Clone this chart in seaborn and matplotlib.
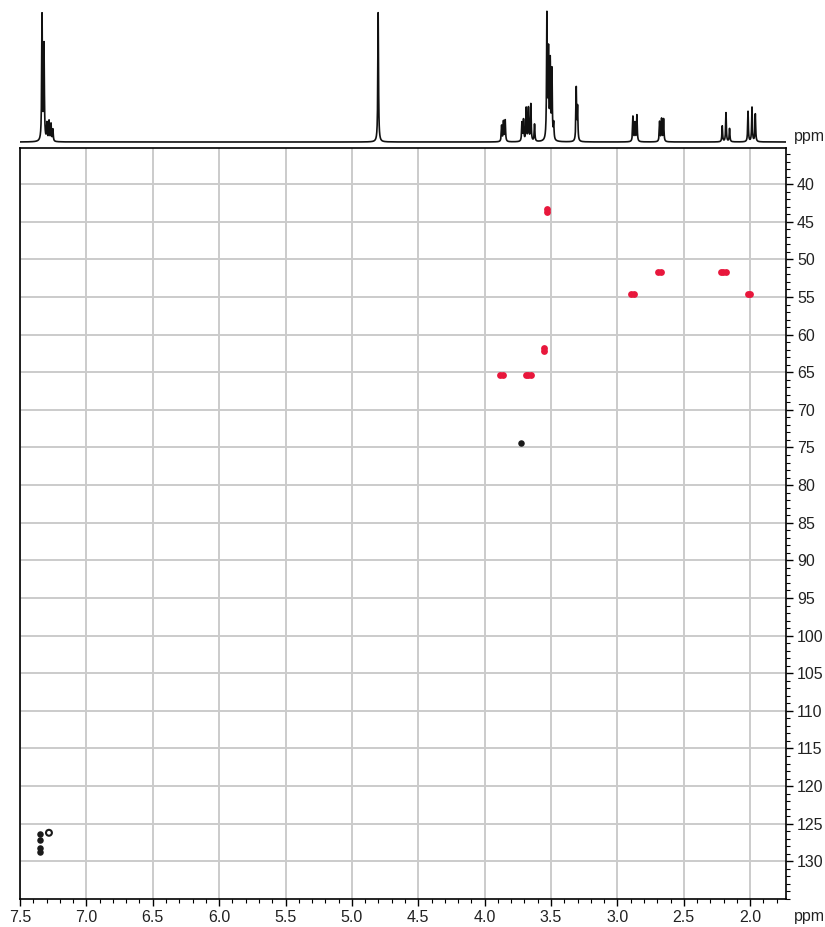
import numpy as np
import pandas as pd
import seaborn as sns
import matplotlib.pyplot as plt
from matplotlib.ticker import MultipleLocator

# 1H 스펙트럼 피크 (ppm, 상대 높이)
h_shift = [7.334, 7.319, 7.297, 7.281, 7.266, 7.252,
           4.802,
           3.872, 3.858, 3.845,
           3.719, 3.707, 3.687, 3.670, 3.652, 3.624,
           3.531, 3.519, 3.506, 3.493, 3.480,
           3.310, 3.300,
           2.883, 2.868, 2.853,
           2.682, 2.667, 2.652,
           2.210, 2.182, 2.155,
           2.016, 1.986, 1.961]
h_height = [0.95, 0.72, 0.13, 0.15, 0.13, 0.09,
            0.98,
            0.12, 0.15, 0.16,
            0.14, 0.16, 0.25, 0.25, 0.28, 0.13,
            0.94, 0.65, 0.58, 0.52, 0.12,
            0.40, 0.25,
            0.19, 0.14, 0.20,
            0.15, 0.17, 0.17,
            0.12, 0.22, 0.10,
            0.23, 0.26, 0.21]

# HSQC 교차 피크 (양의 위상 = 빨강)
pos_h = [3.530, 3.530, 2.696, 2.674, 2.220, 2.202, 2.184,
         2.898, 2.878, 2.018, 1.998, 3.551, 3.551,
         3.886, 3.864, 3.690, 3.670, 3.650]
pos_c = [43.3, 43.7, 51.7, 51.7, 51.7, 51.7, 51.7,
         54.6, 54.6, 54.6, 54.6, 61.8, 62.2,
         65.4, 65.4, 65.4, 65.4, 65.4]
# 음의 위상 = 검정
neg_h = [3.725, 7.350, 7.350, 7.350, 7.350]
neg_c = [74.4, 126.4, 127.1, 128.2, 128.7]
ring_h = [7.282]
ring_c = [126.2]

red = '#e8173c'

sns.set_style('white')
plt.rcParams['font.family'] = ['Liberation Sans', 'DejaVu Sans']

fig = plt.figure(figsize=(8.25, 9.27), dpi=100)
ax = fig.add_axes([20/825, 1-899/927, 766/825, 751/927])
ax1d = fig.add_axes([20/825, 1-145/927, 766/825, 140/927])

# 1D 스펙트럼 (로렌츠 선모양)
x = np.linspace(1.73, 7.5, 30000)
hw = 0.003
y = np.zeros_like(x)
for s, h in zip(h_shift, h_height):
    y += h / (1 + ((x - s) / hw) ** 2)
spec = pd.DataFrame({'ppm': x, 'int': y})
sns.lineplot(data=spec, x='ppm', y='int', ax=ax1d, color='#111111', lw=1.2,
             sort=False, estimator=None)
ax1d.set_xlim(7.5, 1.73)
ax1d.set_ylim(-3/132, 1 + 5/132)
ax1d.axis('off')
ax1d.text(1.01, 9/140, 'ppm', transform=ax1d.transAxes, ha='left', va='center',
          fontsize=11.5, color='#222222')

# 2D 교차 피크
pos = pd.DataFrame({'h': pos_h, 'c': pos_c})
neg = pd.DataFrame({'h': neg_h, 'c': neg_c})
sns.scatterplot(data=pos, x='h', y='c', ax=ax, color=red, s=24, linewidth=0, zorder=3)
sns.scatterplot(data=neg, x='h', y='c', ax=ax, color='#1a1a1a', s=22, linewidth=0, zorder=3)
ax.scatter(ring_h, ring_c, s=18, facecolor='none', edgecolor='#1a1a1a', linewidth=1.5, zorder=3)

ax.set_xlim(7.5, 1.73)
ax.set_ylim(135.0, 35.2)
ax.xaxis.set_minor_locator(MultipleLocator(0.1))
ax.yaxis.set_minor_locator(MultipleLocator(1))
ax.set_xticks(np.arange(2.0, 7.51, 0.5))
ax.set_xticklabels([f'{v:.1f}' for v in np.arange(2.0, 7.51, 0.5)])
ax.set_yticks(np.arange(40, 131, 5))
ax.yaxis.tick_right()
ax.tick_params(axis='both', which='major', direction='out', length=5, width=1,
               labelsize=11.5, color='black', labelcolor='#222222', pad=3)
ax.tick_params(axis='both', which='minor', direction='out', length=3, width=0.8,
               color='black')
ax.tick_params(axis='x', which='both', bottom=True, top=False)
ax.tick_params(axis='y', which='both', right=True, left=False)
ax.grid(True, which='major', color='#cbcbcb', lw=1.4)
ax.set_axisbelow(True)
for sp in ax.spines.values():
    sp.set_color('black')
    sp.set_linewidth(1.2)
ax.set_xlabel('')
ax.set_ylabel('')
ax.text(1.01, -17/751, 'ppm', transform=ax.transAxes, ha='left', va='center',
        fontsize=11.5, color='#222222')

fig.savefig('out.png', dpi=100)
